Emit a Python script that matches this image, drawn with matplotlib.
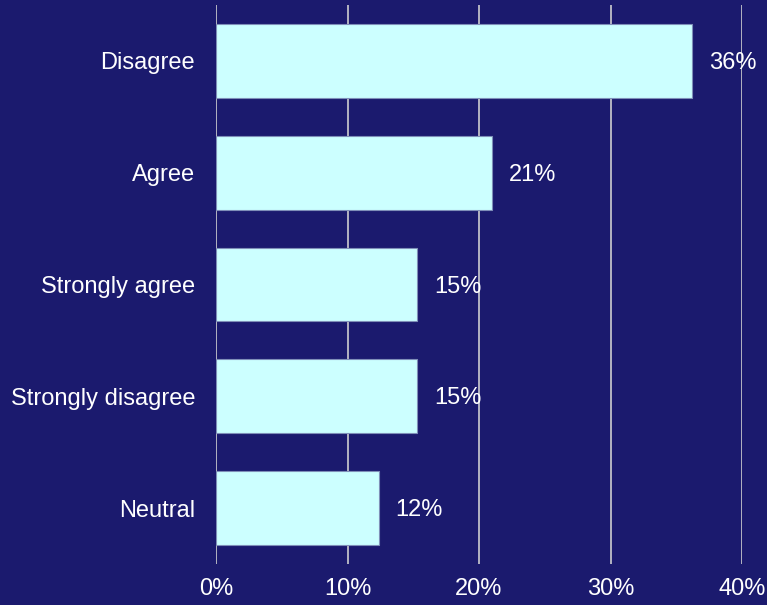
import matplotlib
matplotlib.use("Agg")
import matplotlib.pyplot as plt

# Responses and their share of answers (%)
responses = ["Disagree", "Agree", "Strongly agree", "Strongly disagree", "Neutral"]
shares = [36.2, 21.0, 15.3, 15.3, 12.4]
x_ticks = [0, 10, 20, 30, 40]

navy = "#1b1a6e"
bar_color = "#ccffff"

plt.rcParams["font.family"] = ["Liberation Sans", "DejaVu Sans"]

fig = plt.figure(figsize=(7.67, 6.05), dpi=100, facecolor=navy)
ax = fig.add_axes([216 / 767, 41 / 605, 526 / 767, 559 / 605], facecolor=navy)

ax.barh(range(len(responses)), shares, height=0.66, color=bar_color,
        edgecolor="#7f8fb8", linewidth=0.8, zorder=3)

# value labels to the right of each bar
for i, v in enumerate(shares):
    ax.annotate(f"{v:.0f}%", (v, i), xytext=(12, -1.5), textcoords="offset points",
                va="center", ha="left", color="white", fontsize=17, zorder=4)

ax.set_xlim(0, 40)
ax.set_ylim(len(responses) - 0.5, -0.5)
ax.set_xticks(x_ticks)
ax.set_xticklabels([f"{t}%" for t in x_ticks])
ax.set_yticks(range(len(responses)))
ax.set_yticklabels(responses)

ax.tick_params(axis="both", length=0, colors="white", labelsize=17)
ax.tick_params(axis="y", pad=15)
ax.tick_params(axis="x", pad=10)
ax.grid(axis="x", color="#c0c0c8", linewidth=1.3, zorder=1)
ax.set_axisbelow(True)
for s in ax.spines.values():
    s.set_visible(False)

fig.savefig("out.png", dpi=100, facecolor=navy)
